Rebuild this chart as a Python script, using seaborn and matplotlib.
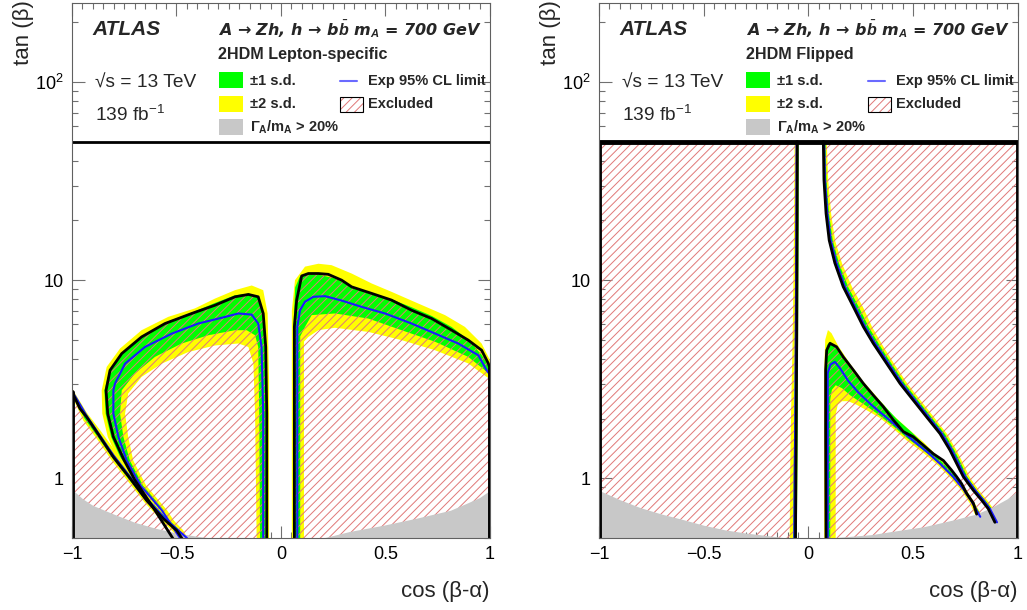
import numpy as np
import matplotlib
matplotlib.use('Agg')
import matplotlib.pyplot as plt
import seaborn as sns
from matplotlib.path import Path
from matplotlib.patches import PathPatch, Rectangle
from matplotlib.ticker import FixedLocator, FixedFormatter, LogLocator, NullFormatter, MultipleLocator

# ---------------- data ----------------
X_TICKS = [-1, -0.5, 0, 0.5, 1]
X_TICKLABELS = ['\u22121', '\u22120.5', '0', '0.5', '1']
Y_TICKS = [1, 10, 100]
Y_TICKLABELS = ['1', '10', '$10^{2}$']
PANEL_MODELS = ['2HDM Lepton-specific', '2HDM Flipped']
LEGEND_LEFT = ['\u00b11 s.d.', '\u00b12 s.d.', r'$\mathbf{\Gamma_{A}}$/m$_{\mathbf{A}}$ > 20%']
LEGEND_RIGHT = ['Exp 95% CL limit', 'Excluded']

# width > 20% region (upper edge)
ls_gray_x = [-1, -0.95, -0.9, -0.8, -0.7, -0.6, -0.5, -0.4, -0.3, 0.0, 0.2, 0.33, 0.49, 0.65, 0.81, 0.89, 0.95, 1]
ls_gray_y = [0.88, 0.79, 0.73, 0.66, 0.60, 0.56, 0.53, 0.51, 0.495, 0.47, 0.50, 0.54, 0.58, 0.63, 0.69, 0.75, 0.80, 0.87]
fl_gray_x = [-1, -0.9, -0.8, -0.7, -0.6, -0.5, -0.4, -0.3, -0.1, 0.1, 0.3, 0.4, 0.55, 0.7, 0.8, 0.87, 0.95, 1]
fl_gray_y = [0.87, 0.78, 0.71, 0.66, 0.62, 0.58, 0.55, 0.53, 0.50, 0.50, 0.52, 0.54, 0.57, 0.62, 0.66, 0.71, 0.79, 0.87]

# ---- Lepton-specific: left-edge triangle ----
ls_tri_obs_x = [-1.0, -1.0, -0.962, -0.930, -0.866, -0.802, -0.722, -0.643, -0.563, -0.499, -0.475, -0.45]
ls_tri_obs_y = [0.45, 2.73, 2.25, 2.04, 1.62, 1.28, 1.00, 0.774, 0.626, 0.546, 0.50, 0.45]
ls_tri_exp_x = [-1.0, -0.93, -0.866, -0.80, -0.72, -0.64, -0.56, -0.49, -0.45]
ls_tri_exp_y = [2.76, 2.07, 1.64, 1.30, 1.01, 0.785, 0.635, 0.545, 0.50]
ls_tri_out2_x = [-1.0, -1.0, -0.93, -0.86, -0.79, -0.71, -0.63, -0.55, -0.47, -0.42]
ls_tri_out2_y = [0.45, 2.85, 2.15, 1.72, 1.36, 1.06, 0.83, 0.67, 0.55, 0.45]
ls_tri_out1_x = [-1.0, -1.0, -0.93, -0.865, -0.80, -0.72, -0.64, -0.56, -0.48, -0.44]
ls_tri_out1_y = [0.45, 2.80, 2.10, 1.67, 1.32, 1.03, 0.80, 0.65, 0.54, 0.45]
ls_tri_in1_x = [-1.0, -1.0, -0.94, -0.87, -0.805, -0.725, -0.645, -0.565, -0.50, -0.47]
ls_tri_in1_y = [0.45, 2.68, 2.00, 1.58, 1.26, 0.98, 0.765, 0.62, 0.54, 0.45]
ls_tri_in2_x = [-1.0, -1.0, -0.945, -0.875, -0.81, -0.73, -0.65, -0.57, -0.51, -0.48]
ls_tri_in2_y = [0.45, 2.60, 1.95, 1.55, 1.23, 0.96, 0.75, 0.61, 0.53, 0.45]

# ---- Lepton-specific: left lobe ----
ls_l_obs_x = [-0.491, -0.603, -0.699, -0.750, -0.802, -0.829, -0.837, -0.818, -0.762, -0.667, -0.555, -0.427, -0.316, -0.220, -0.156, -0.109, -0.085, -0.073, -0.068, -0.068]
ls_l_obs_y = [0.45, 0.69, 0.98, 1.23, 1.62, 2.12, 2.78, 3.51, 4.26, 5.17, 6.04, 6.79, 7.47, 8.24, 8.47, 8.24, 6.79, 4.60, 2.12, 0.45]
ls_l_exp_x = [-0.455, -0.570, -0.672, -0.738, -0.778, -0.802, -0.802, -0.794, -0.746, -0.651, -0.523, -0.396, -0.268, -0.204, -0.140, -0.109, -0.093, -0.085, -0.085]
ls_l_exp_y = [0.45, 0.69, 0.92, 1.23, 1.62, 2.12, 2.78, 3.01, 3.79, 4.60, 5.37, 6.04, 6.52, 6.79, 6.70, 6.04, 4.60, 2.12, 0.45]
ls_l_out2_x = [-0.48, -0.595, -0.69, -0.778, -0.829, -0.855, -0.858, -0.834, -0.770, -0.667, -0.539, -0.412, -0.316, -0.220, -0.140, -0.085, -0.064, -0.057, -0.057]
ls_l_out2_y = [0.45, 0.69, 0.92, 1.23, 1.62, 2.12, 2.78, 3.65, 4.52, 5.59, 6.53, 7.20, 8.07, 8.90, 9.40, 8.90, 6.80, 3.13, 0.45]
ls_l_out1_x = [-0.47, -0.585, -0.682, -0.762, -0.813, -0.839, -0.845, -0.818, -0.754, -0.659, -0.547, -0.420, -0.316, -0.220, -0.153, -0.112, -0.089, -0.077, -0.073, -0.073]
ls_l_out1_y = [0.45, 0.69, 0.92, 1.23, 1.62, 2.12, 2.78, 3.58, 4.34, 5.27, 6.15, 6.90, 7.67, 8.39, 8.55, 8.30, 6.80, 4.60, 2.12, 0.45]
ls_l_in1_x = [-0.445, -0.560, -0.660, -0.723, -0.754, -0.770, -0.762, -0.699, -0.603, -0.475, -0.348, -0.220, -0.164, -0.124, -0.109, -0.104, -0.100]
ls_l_in1_y = [0.45, 0.69, 0.92, 1.23, 1.62, 2.12, 2.78, 3.38, 4.10, 4.79, 5.27, 5.59, 5.59, 5.27, 4.60, 2.12, 0.45]
ls_l_in2_x = [-0.430, -0.545, -0.645, -0.707, -0.731, -0.746, -0.731, -0.667, -0.571, -0.443, -0.316, -0.204, -0.156, -0.132, -0.124, -0.116]
ls_l_in2_y = [0.45, 0.69, 0.92, 1.23, 1.62, 2.12, 2.68, 3.25, 3.79, 4.34, 4.68, 4.79, 4.60, 3.79, 2.12, 0.45]

# ---- Lepton-specific: right lobe ----
ls_r_obs_x = [0.064, 0.064, 0.075, 0.099, 0.131, 0.179, 0.226, 0.290, 0.338, 0.434, 0.529, 0.625, 0.721, 0.817, 0.896, 0.960, 0.992, 1.0, 1.0]
ls_r_obs_y = [0.45, 5.81, 7.93, 10.5, 10.8, 10.8, 10.7, 10.0, 9.25, 8.57, 7.93, 7.05, 6.40, 5.59, 4.98, 4.43, 3.80, 3.60, 0.45]
ls_r_exp_x = [0.078, 0.078, 0.091, 0.115, 0.155, 0.211, 0.290, 0.386, 0.498, 0.625, 0.737, 0.848, 0.944, 0.984, 1.0]
ls_r_exp_y = [0.45, 5.81, 7.05, 7.78, 8.24, 8.30, 7.89, 7.33, 6.79, 6.04, 5.38, 4.79, 4.18, 3.51, 3.35]
ls_r_out2_x = [0.052, 0.052, 0.067, 0.115, 0.179, 0.242, 0.338, 0.434, 0.529, 0.657, 0.785, 0.880, 0.960, 1.0, 1.01]
ls_r_out2_y = [0.45, 7.0, 10.0, 11.7, 12.1, 11.9, 10.8, 9.62, 8.73, 7.62, 6.66, 5.81, 4.79, 3.95, 0.45]
ls_r_out1_x = [0.060, 0.060, 0.068, 0.090, 0.131, 0.190, 0.260, 0.338, 0.434, 0.529, 0.625, 0.721, 0.817, 0.896, 0.960, 1.0, 1.01]
ls_r_out1_y = [0.45, 6.0, 9.2, 10.4, 10.7, 10.6, 10.2, 9.3, 8.6, 8.0, 7.3, 6.6, 5.8, 5.0, 4.2, 3.6, 0.45]
ls_r_in1_x = [0.092, 0.092, 0.115, 0.147, 0.258, 0.418, 0.577, 0.737, 0.896, 0.976, 1.01, 1.01]
ls_r_in1_y = [0.45, 5.2, 5.81, 6.66, 6.79, 6.40, 5.59, 4.89, 4.10, 3.51, 3.2, 0.45]
ls_r_in2_x = [0.110, 0.110, 0.131, 0.179, 0.258, 0.418, 0.577, 0.737, 0.896, 0.984, 1.01, 1.01]
ls_r_in2_y = [0.45, 4.9, 5.17, 5.59, 5.75, 5.48, 4.98, 4.43, 3.80, 3.25, 3.1, 0.45]

ls_frame_x = [-1, 1]
ls_frame_y = [50, 50]

# ---- Flipped: vertical strip near cos(b-a)=0 ----
fl_strip_y = [0.45, 1.0, 2.0, 5.0, 10.0, 20.0, 50.0]
fl_strip_obs_x = [-0.062, -0.060, -0.058, -0.056, -0.055, -0.054, -0.053]
fl_strip_exp_x = [-0.068, -0.066, -0.063, -0.061, -0.059, -0.058, -0.057]
fl_strip_out2_x = [-0.092, -0.090, -0.086, -0.078, -0.074, -0.071, -0.069]
fl_strip_out1_x = [-0.075, -0.073, -0.070, -0.066, -0.064, -0.062, -0.061]
fl_strip_in_x = [-0.058, -0.056, -0.054, -0.052, -0.051, -0.050, -0.050]

# ---- Flipped: upper curve ----
fl_uc_y = [50, 32.0, 21.7, 15.9, 12.2, 9.26, 7.35, 5.82, 4.80, 3.80, 3.01, 2.48, 2.04, 1.68, 1.39, 1.19, 1.02, 0.87, 0.775, 0.703, 0.60]
fl_uc_obs_x = [0.071, 0.074, 0.084, 0.099, 0.126, 0.166, 0.214, 0.262, 0.309, 0.373, 0.437, 0.500, 0.564, 0.628, 0.675, 0.707, 0.739, 0.787, 0.827, 0.858, 0.890]
fl_uc_exp_x = [0.075, 0.079, 0.090, 0.106, 0.134, 0.174, 0.222, 0.270, 0.318, 0.382, 0.446, 0.509, 0.573, 0.637, 0.684, 0.716, 0.748, 0.796, 0.836, 0.866, 0.900]
fl_uc_in_x = [0.068, 0.071, 0.081, 0.096, 0.122, 0.162, 0.210, 0.258, 0.305, 0.369, 0.433, 0.496, 0.560, 0.624, 0.671, 0.703, 0.735, 0.783, 0.823, 0.854, 0.886]
fl_uc_out1_x = [0.079, 0.084, 0.096, 0.114, 0.144, 0.188, 0.238, 0.286, 0.333, 0.395, 0.459, 0.522, 0.586, 0.650, 0.695, 0.727, 0.757, 0.803, 0.843, 0.874, 0.906]
fl_uc_out2_x = [0.085, 0.092, 0.106, 0.125, 0.158, 0.206, 0.258, 0.302, 0.347, 0.407, 0.471, 0.534, 0.598, 0.660, 0.705, 0.737, 0.767, 0.813, 0.853, 0.882, 0.914]

# ---- Flipped: lower wedge ----
fl_w_obs_x = [0.084, 0.082, 0.082, 0.087, 0.103, 0.134, 0.166, 0.214, 0.262, 0.309, 0.357, 0.405, 0.453, 0.500, 0.548, 0.596, 0.644, 0.683, 0.707, 0.731, 0.755, 0.787, 0.803]
fl_w_obs_y = [0.45, 1.75, 3.52, 4.43, 4.80, 4.61, 4.10, 3.52, 3.01, 2.63, 2.30, 1.97, 1.72, 1.62, 1.47, 1.33, 1.23, 1.10, 1.02, 0.94, 0.84, 0.75, 0.66]
fl_w_exp_x = [0.092, 0.092, 0.105, 0.126, 0.150, 0.190, 0.240, 0.300, 0.360, 0.430, 0.500, 0.570, 0.630, 0.690, 0.740, 0.780, 0.820]
fl_w_exp_y = [0.45, 3.4, 3.75, 3.87, 3.6, 3.1, 2.7, 2.35, 2.08, 1.8, 1.55, 1.35, 1.18, 1.02, 0.88, 0.76, 0.64]
fl_w_out2_x = [0.075, 0.075, 0.080, 0.093, 0.110, 0.140, 0.190, 0.260, 0.330, 0.400, 0.470, 0.550, 0.620, 0.690, 0.740, 0.790, 0.840, 0.870]
fl_w_out2_y = [0.45, 3.5, 5.0, 5.6, 5.4, 4.7, 3.9, 3.1, 2.55, 2.1, 1.8, 1.52, 1.28, 1.08, 0.92, 0.76, 0.62, 0.45]
fl_w_out1_x = [0.079, 0.079, 0.088, 0.103, 0.130, 0.170, 0.220, 0.280, 0.350, 0.420, 0.490, 0.560, 0.630, 0.700, 0.750, 0.800, 0.840, 0.860]
fl_w_out1_y = [0.45, 4.0, 4.7, 4.9, 4.55, 3.95, 3.35, 2.85, 2.40, 2.00, 1.72, 1.45, 1.23, 1.04, 0.88, 0.72, 0.60, 0.45]
fl_w_in1_x = [0.104, 0.104, 0.112, 0.130, 0.160, 0.200, 0.260, 0.320, 0.400, 0.470, 0.550, 0.620, 0.680, 0.730, 0.770, 0.810, 0.830]
fl_w_in1_y = [0.45, 2.5, 2.8, 2.95, 2.85, 2.62, 2.38, 2.15, 1.85, 1.6, 1.38, 1.2, 1.03, 0.9, 0.78, 0.66, 0.45]
fl_w_in2_x = [0.130, 0.130, 0.140, 0.160, 0.190, 0.230, 0.280, 0.340, 0.400, 0.470, 0.550, 0.620, 0.680, 0.730, 0.770, 0.800, 0.820]
fl_w_in2_y = [0.45, 2.1, 2.35, 2.45, 2.45, 2.35, 2.2, 2.02, 1.8, 1.55, 1.34, 1.16, 1.0, 0.87, 0.75, 0.64, 0.45]

fl_frame_x = [-1, -1, 1, 1]
fl_frame_y = [0.45, 50, 50, 0.45]
fl_box_x = [-1, -1, 1, 1]
fl_box_y = [0.45, 50, 50, 0.45]

# ---------------- style ----------------
sns.set_theme(style='ticks')
plt.rcParams['font.family'] = ['Liberation Sans', 'DejaVu Sans']
plt.rcParams['mathtext.fontset'] = 'custom'
plt.rcParams['mathtext.rm'] = 'Liberation Sans'
plt.rcParams['mathtext.it'] = 'Liberation Sans:italic:bold'
plt.rcParams['mathtext.bf'] = 'Liberation Sans:bold'
plt.rcParams['hatch.linewidth'] = 0.7

YELLOW = '#ffff00'
GREEN = '#00ff00'
GRAY = '#c8c8c8'
BLUE = '#1a1aff'
HATCH = '#e07878'


def ring(xs, ys, ccw=True):
    pts = np.column_stack([xs, ys]).astype(float)
    lx, ly = pts[:, 0], np.log10(pts[:, 1])
    area = 0.5 * np.sum(lx * np.roll(ly, -1) - np.roll(lx, -1) * ly)
    if (area > 0) != ccw:
        pts = pts[::-1]
    codes = [Path.MOVETO] + [Path.LINETO] * (len(pts) - 1) + [Path.CLOSEPOLY]
    return Path(np.vstack([pts, pts[:1]]), codes)


def hatch(ax, path):
    ax.add_patch(PathPatch(path, facecolor='none', edgecolor=HATCH, hatch='////', lw=0, zorder=2))


def bands(ax, out2, out1, in1, in2):
    ax.fill(*out2, color=YELLOW, lw=0, zorder=1)
    ax.fill(*out1, color=GREEN, lw=0, zorder=1)
    ax.fill(*in1, color=YELLOW, lw=0, zorder=1)
    ax.fill(*in2, color='white', lw=0, zorder=1)


def line(ax, xs, ys, color, lw, z):
    sns.lineplot(x=xs, y=ys, sort=False, estimator=None, color=color, linewidth=lw, ax=ax, zorder=z)


def decorate(ax, model):
    ax.set_xlim(-1, 1)
    ax.set_ylim(0.5, 250)
    ax.xaxis.set_major_locator(FixedLocator(X_TICKS))
    ax.xaxis.set_major_formatter(FixedFormatter(X_TICKLABELS))
    ax.xaxis.set_minor_locator(MultipleLocator(0.05))
    ax.yaxis.set_major_locator(FixedLocator(Y_TICKS))
    ax.yaxis.set_major_formatter(FixedFormatter(Y_TICKLABELS))
    ax.yaxis.set_minor_locator(LogLocator(base=10, subs=range(2, 10), numticks=20))
    ax.yaxis.set_minor_formatter(NullFormatter())
    ax.tick_params(which='both', direction='in', top=True, right=True, color='#707070', labelsize=13,
                   labelcolor='black')
    ax.tick_params(which='major', length=9, width=0.8, pad=6)
    ax.tick_params(which='minor', length=4.5, width=0.8)
    for s in ax.spines.values():
        s.set_color('#606060')
        s.set_linewidth(0.8)
        s.set_zorder(6)
    ax.set_xlabel('cos (\u03b2-\u03b1)', fontsize=16, loc='right')
    ax.xaxis.set_label_coords(1.0, -0.08)
    ax.set_ylabel('tan (\u03b2)', fontsize=16, loc='top')
    ax.yaxis.set_label_coords(-0.09, 1.005)

    tr = ax.transAxes
    ax.text(0.048, 0.950, 'ATLAS', transform=tr, fontsize=15, fontweight='bold', style='italic', va='center')
    ax.text(0.350, 0.951, 'A \u2192 Zh, h \u2192 b$\\bar{b}$ m$_{A}$ = 700 GeV', transform=tr,
            family=['DejaVu Sans'], fontsize=11.5, fontweight='bold', style='italic', va='center')
    ax.text(0.350, 0.903, model, transform=tr, fontsize=11.6, fontweight='bold', va='center')
    ax.text(0.055, 0.850, '\u221as = 13 TeV', transform=tr, fontsize=13.8, va='center')
    ax.text(0.055, 0.790, '139 fb$^{-1}$', transform=tr, fontsize=13.8, va='center')

    box_y = [0.841, 0.797, 0.753]
    for c, yb, lab in zip([GREEN, YELLOW, GRAY], box_y, LEGEND_LEFT):
        ax.add_patch(Rectangle((0.352, yb), 0.057, 0.030, transform=tr, facecolor=c, edgecolor='none',
                               zorder=7, clip_on=False))
        ax.text(0.426, yb + 0.014, lab, transform=tr, fontsize=10.5, fontweight='bold', va='center')
    ax.plot([0.641, 0.682], [0.855, 0.855], transform=tr, color='#6a6aff', lw=1.5, zorder=7)
    ax.text(0.708, 0.855, LEGEND_RIGHT[0], transform=tr, fontsize=10.5, fontweight='bold', va='center')
    ax.add_patch(Rectangle((0.641, 0.797), 0.055, 0.028, transform=tr, facecolor='white', edgecolor=HATCH,
                           hatch='////', lw=0, zorder=7))
    ax.add_patch(Rectangle((0.641, 0.797), 0.055, 0.028, transform=tr, facecolor='none', edgecolor='black',
                           lw=0.8, zorder=8))
    ax.text(0.708, 0.811, LEGEND_RIGHT[1], transform=tr, fontsize=10.5, fontweight='bold', va='center')


fig = plt.figure(figsize=(10.27, 6.10), dpi=100)
ax1 = fig.add_axes([0.0701, 0.118, 0.407, 0.877])
ax2 = fig.add_axes([0.5832, 0.118, 0.408, 0.877])
for ax in (ax1, ax2):
    ax.set_yscale('log')
    ax.set_xlim(-1, 1)
    ax.set_ylim(0.5, 250)

# ---------------- Lepton-specific ----------------
bands(ax1, (ls_l_out2_x, ls_l_out2_y), (ls_l_out1_x, ls_l_out1_y), (ls_l_in1_x, ls_l_in1_y), (ls_l_in2_x, ls_l_in2_y))
bands(ax1, (ls_r_out2_x, ls_r_out2_y), (ls_r_out1_x, ls_r_out1_y), (ls_r_in1_x, ls_r_in1_y), (ls_r_in2_x, ls_r_in2_y))
bands(ax1, (ls_tri_out2_x, ls_tri_out2_y), (ls_tri_out1_x, ls_tri_out1_y), (ls_tri_in1_x, ls_tri_in1_y),
      (ls_tri_in2_x, ls_tri_in2_y))
for xs, ys in [(ls_tri_obs_x, ls_tri_obs_y), (ls_l_obs_x, ls_l_obs_y), (ls_r_obs_x, ls_r_obs_y)]:
    hatch(ax1, ring(xs, ys))
ax1.fill_between(ls_gray_x, 0.3, ls_gray_y, color=GRAY, lw=0, zorder=3)
for xs, ys in [(ls_tri_exp_x, ls_tri_exp_y), (ls_l_exp_x, ls_l_exp_y), (ls_r_exp_x, ls_r_exp_y)]:
    line(ax1, xs, ys, BLUE, 1.5, 4)
for xs, ys in [(ls_tri_obs_x, ls_tri_obs_y), (ls_l_obs_x, ls_l_obs_y), (ls_r_obs_x, ls_r_obs_y),
               (ls_frame_x, ls_frame_y)]:
    line(ax1, xs, ys, 'black', 2.0, 5)
line(ax1, [-1.0, -1.0], [0.45, 2.73], 'black', 3.5, 5)
line(ax1, [1.0, 1.0], [0.45, 3.6], 'black', 3.5, 5)

# ---------------- Flipped ----------------
bands(ax2, (fl_w_out2_x, fl_w_out2_y), (fl_w_out1_x, fl_w_out1_y), (fl_w_in1_x, fl_w_in1_y), (fl_w_in2_x, fl_w_in2_y))
ax2.fill_betweenx(fl_strip_y, fl_strip_out2_x, fl_strip_in_x, color=YELLOW, lw=0, zorder=1)
ax2.fill_betweenx(fl_strip_y, fl_strip_out1_x, fl_strip_in_x, color=GREEN, lw=0, zorder=1)
ax2.fill_betweenx(fl_uc_y, fl_uc_in_x, fl_uc_out2_x, color=YELLOW, lw=0, zorder=1)
ax2.fill_betweenx(fl_uc_y, fl_uc_in_x, fl_uc_out1_x, color=GREEN, lw=0, zorder=1)

white_x = fl_strip_obs_x + fl_uc_obs_x[:17] + fl_w_obs_x[18::-1]
white_y = fl_strip_y + fl_uc_y[:17] + fl_w_obs_y[18::-1]
hatch(ax2, Path.make_compound_path(ring(fl_box_x, fl_box_y, True), ring(white_x, white_y, False)))
ax2.fill_between(fl_gray_x, 0.3, fl_gray_y, color=GRAY, lw=0, zorder=3)

for xs, ys in [(fl_strip_exp_x, fl_strip_y), (fl_uc_exp_x, fl_uc_y), (fl_w_exp_x, fl_w_exp_y)]:
    line(ax2, xs, ys, BLUE, 1.5, 4)
for xs, ys in [(fl_strip_obs_x, fl_strip_y), (fl_uc_obs_x, fl_uc_y), (fl_w_obs_x, fl_w_obs_y)]:
    line(ax2, xs, ys, 'black', 2.0, 5)
line(ax2, fl_frame_x, fl_frame_y, 'black', 3.5, 5)

for ax, model in zip((ax1, ax2), PANEL_MODELS):
    decorate(ax, model)

fig.savefig('out.png', dpi=100)
